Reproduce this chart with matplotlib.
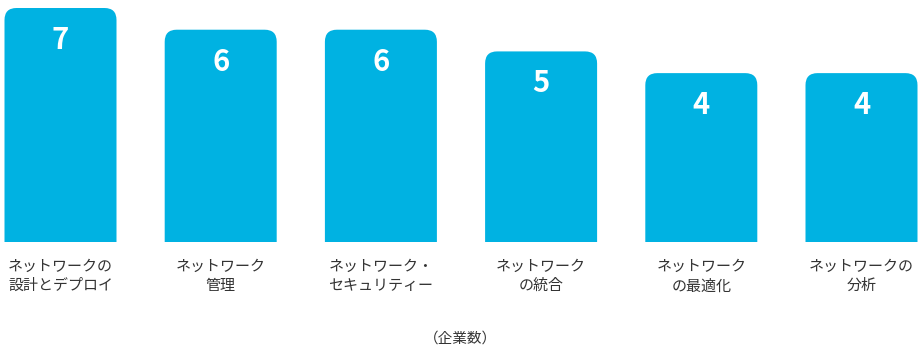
import matplotlib.pyplot as plt
from matplotlib.patches import FancyBboxPatch

plt.rcParams['font.family'] = ['Noto Sans CJK JP', 'DejaVu Sans']

# データ
categories = [
    'ネットワークの\n設計とデプロイ',
    'ネットワーク\n管理',
    'ネットワーク・\nセキュリティー',
    'ネットワーク\nの統合',
    'ネットワーク\nの最適化',
    'ネットワークの\n分析',
]
values = [7, 6, 6, 5, 4, 4]
unit_label = '（企業数）'

bar_color = '#00b2e2'
text_color = '#333333'

W, H, DPI = 919, 345, 100
fig = plt.figure(figsize=(W / DPI, H / DPI), dpi=DPI)

# 軸の位置（ピクセル基準）
base_px, top_px = 242, 8
ax = fig.add_axes([0, (H - base_px) / H, 1, (base_px - top_px) / H])

step_px = 160.2
first_px = 60.5
xmin = -first_px / step_px
xmax = (W - first_px) / step_px
ymin, ymax = -3.78, 7
ax.set_xlim(xmin, xmax)
ax.set_ylim(ymin, ymax)

bar_w = 112 / step_px
radius_px = 12
x_per_px = (xmax - xmin) / W
y_per_px = (ymax - ymin) / (base_px - top_px)
aspect = y_per_px / x_per_px

for i, v in enumerate(values):
    # 上の角だけ丸める（下側は軸の外に出してクリップ）
    box = FancyBboxPatch((i - bar_w / 2, ymin - 2), bar_w, v - ymin + 2,
                         boxstyle=f'round,pad=0,rounding_size={radius_px * x_per_px}',
                         mutation_aspect=aspect, facecolor=bar_color,
                         edgecolor='none')
    ax.add_patch(box)
    ax.annotate(str(v), (i, v), xytext=(0, -32), textcoords='offset pixels',
                ha='center', va='center', color='white', fontsize=21,
                fontweight='bold')

ax.set_xticks(range(len(categories)))
ax.set_xticklabels(categories, fontsize=10.8, color=text_color, linespacing=1.45)
ax.tick_params(axis='x', length=0, pad=13)
ax.set_yticks([])
for s in ax.spines.values():
    s.set_visible(False)

fig.text(460 / W, 1 - 339 / H, unit_label, ha='center', va='center',
         fontsize=10.5, color=text_color)

fig.savefig('out.png', dpi=DPI)
